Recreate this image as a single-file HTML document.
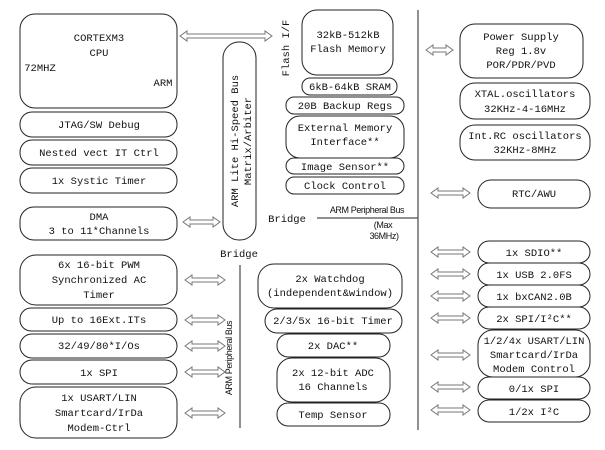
<!DOCTYPE html>
<html><head><meta charset="utf-8"><style>
html,body{margin:0;padding:0;background:#fff;width:605px;height:450px;overflow:hidden}
svg text{font-family:"Liberation Mono","Noto Serif CJK SC",monospace;font-size:10.5px;fill:#111}
.s{font-family:"Liberation Sans",sans-serif !important;font-size:9px !important;letter-spacing:-0.4px}
rect{fill:#fff;stroke:#222;stroke-width:1}
polygon{fill:#fff;stroke:#777;stroke-width:1}
</style></head><body>
<svg width="605" height="450" viewBox="0 0 605 450" xmlns="http://www.w3.org/2000/svg">
<g text-anchor="middle">
<!-- left column -->
<rect x="20" y="14" width="157" height="94" rx="15"/>
<text x="99" y="41">CORTEXM3</text>
<text x="99" y="56">CPU</text>
<text x="40" y="71">72MHZ</text>
<text x="163" y="86">ARM</text>
<rect x="20" y="112" width="157" height="25" rx="12"/><text x="99" y="128">JTAG/SW Debug</text>
<rect x="20" y="140" width="157" height="25" rx="12"/><text x="99" y="156">Nested vect IT Ctrl</text>
<rect x="20" y="168" width="157" height="25" rx="12"/><text x="99" y="184">1x Systic Timer</text>
<rect x="20" y="207" width="157" height="33" rx="14"/><text x="99" y="220">DMA</text><text x="99" y="234">3 to 11*Channels</text>

<rect x="223" y="42" width="33" height="198" rx="16"/>
<text transform="translate(238,141) rotate(-90)" dy="0">ARM Lite Hi-Speed Bus</text>
<text transform="translate(251,141) rotate(-90)">Matrix/Arbiter</text>
<text transform="translate(289,48) rotate(-90)">Flash I/F</text>
<text x="287" y="222">Bridge</text>
<text x="239" y="257">Bridge</text>

<!-- middle top -->
<rect x="302" y="10" width="91" height="65" rx="15"/>
<text x="348" y="38">32kB-512kB</text><text x="348" y="52">Flash Memory</text>
<rect x="302" y="78" width="95" height="17" rx="8"/><text x="350" y="90">6kB-64kB SRAM</text>
<rect x="286" y="97" width="118" height="17" rx="8"/><text x="345" y="109">20B Backup Regs</text>
<rect x="286" y="116" width="118" height="42" rx="14"/><text x="345" y="131">External Memory</text><text x="345" y="145">Interface**</text>
<rect x="286" y="158" width="118" height="16" rx="8"/><text x="345" y="170">Image Sensor**</text>
<rect x="286" y="177" width="118" height="17" rx="8"/><text x="345" y="189">Clock Control</text>
<text class="s" x="367" y="213">ARM Peripheral Bus</text>
<line x1="317" y1="218" x2="418" y2="218" stroke="#222"/>
<text class="s" x="383" y="228">(Max</text>
<text class="s" x="384" y="239">36MHz)</text>
<line x1="418" y1="10" x2="418" y2="430" stroke="#555" stroke-width="1.3"/>

<!-- lower left -->
<rect x="20" y="255" width="157" height="50" rx="16"/>
<text x="99" y="268">6x 16-bit PWM</text><text x="99" y="283">Synchronized AC</text><text x="99" y="298">Timer</text>
<rect x="20" y="308" width="157" height="23" rx="11"/><text x="99" y="323">Up to 16Ext.ITs</text>
<rect x="20" y="334" width="157" height="24" rx="12"/><text x="99" y="349">32/49/80*I/Os</text>
<rect x="20" y="360" width="157" height="24" rx="12"/><text x="99" y="376">1x SPI</text>
<rect x="20" y="387" width="157" height="51" rx="16"/>
<text x="99" y="401">1x USART/LIN</text><text x="99" y="416">Smartcard/IrDa</text><text x="99" y="431">Modem-Ctrl</text>
<line x1="240" y1="265" x2="240" y2="428" stroke="#555" stroke-width="1.3"/>
<text class="s" transform="translate(232,358) rotate(-90)">ARM Peripheral Bus</text>

<!-- middle lower -->
<rect x="258" y="264" width="144" height="44" rx="16"/><text x="330" y="282">2x Watchdog</text><text x="330" y="296">(independent&amp;window)</text>
<rect x="265" y="309" width="137" height="24" rx="12"/><text x="333" y="324">2/3/5x 16-bit Timer</text>
<rect x="277" y="334" width="113" height="23" rx="11"/><text x="333" y="349">2x DAC**</text>
<rect x="277" y="358" width="113" height="44" rx="15"/><text x="333" y="376">2x 12-bit ADC</text><text x="333" y="390">16 Channels</text>
<rect x="277" y="403" width="113" height="23" rx="11"/><text x="333" y="418">Temp Sensor</text>

<!-- right -->
<rect x="460" y="24" width="123" height="54" rx="15"/>
<text x="521" y="40">Power Supply</text><text x="521" y="54">Reg 1.8v</text><text x="521" y="68">POR/PDR/PVD</text>
<rect x="460" y="83" width="130" height="36" rx="15"/><text x="525" y="97">XTAL.oscillators</text><text x="525" y="112">32KHz-4-16MHz</text>
<rect x="460" y="125" width="130" height="35" rx="15"/><text x="525" y="139">Int.RC oscillators</text><text x="525" y="153">32KHz-8MHz</text>
<rect x="478" y="180" width="112" height="28" rx="13"/><text x="534" y="197">RTC/AWU</text>
<rect x="478" y="241" width="112" height="22" rx="11"/><text x="534" y="256">1x SDIO**</text>
<rect x="478" y="263" width="112" height="22" rx="11"/><text x="534" y="278">1x USB 2.0FS</text>
<rect x="478" y="285" width="112" height="22" rx="11"/><text x="534" y="300">1x bxCAN2.0B</text>
<rect x="478" y="307" width="112" height="22" rx="11"/><text x="534" y="322">2x SPI/I²C**</text>
<rect x="478" y="330" width="112" height="47" rx="15"/>
<text x="534" y="344">1/2/4x USART/LIN</text><text x="534" y="358">Smartcard/IrDa</text><text x="534" y="372">Modem Control</text>
<rect x="478" y="377" width="112" height="22" rx="11"/><text x="534" y="392">0/1x SPI</text>
<rect x="478" y="400" width="112" height="22" rx="11"/><text x="534" y="415">1/2x I²C</text>
</g>

<!-- arrows -->
<g>
<polygon points="180,36 187,31 187,34 265,34 265,31 272,36 265,41 265,38 187,38 187,41"/>
<polygon points="183,222 190,217 190,220 213,220 213,217 220,222 213,227 213,224 190,224 190,227"/>
<polygon points="185,280 192,275 192,278 218,278 218,275 225,280 218,285 218,282 192,282 192,285"/>
<polygon points="185,320 192,315 192,318 218,318 218,315 225,320 218,325 218,322 192,322 192,325"/>
<polygon points="185,346 192,341 192,344 218,344 218,341 225,346 218,351 218,348 192,348 192,351"/>
<polygon points="185,372 192,367 192,370 218,370 218,367 225,372 218,377 218,374 192,374 192,377"/>
<polygon points="185,413 192,408 192,411 218,411 218,408 225,413 218,418 218,415 192,415 192,418"/>
<polygon points="426,50 433,45 433,48 446,48 446,45 453,50 446,55 446,52 433,52 433,55"/>
<polygon points="431,193 438,188 438,191 463,191 463,188 470,193 463,198 463,195 438,195 438,198"/>
<polygon points="431,252 438,247 438,250 463,250 463,247 470,252 463,257 463,254 438,254 438,257"/>
<polygon points="431,274 438,269 438,272 463,272 463,269 470,274 463,279 463,276 438,276 438,279"/>
<polygon points="431,296 438,291 438,294 463,294 463,291 470,296 463,301 463,298 438,298 438,301"/>
<polygon points="431,318 438,313 438,316 463,316 463,313 470,318 463,323 463,320 438,320 438,323"/>
<polygon points="431,355 438,350 438,353 463,353 463,350 470,355 463,360 463,357 438,357 438,360"/>
<polygon points="431,387 438,382 438,385 463,385 463,382 470,387 463,392 463,389 438,389 438,392"/>
<polygon points="431,410 438,405 438,408 463,408 463,405 470,410 463,415 463,412 438,412 438,415"/>
</g>
</svg>
</body></html>
